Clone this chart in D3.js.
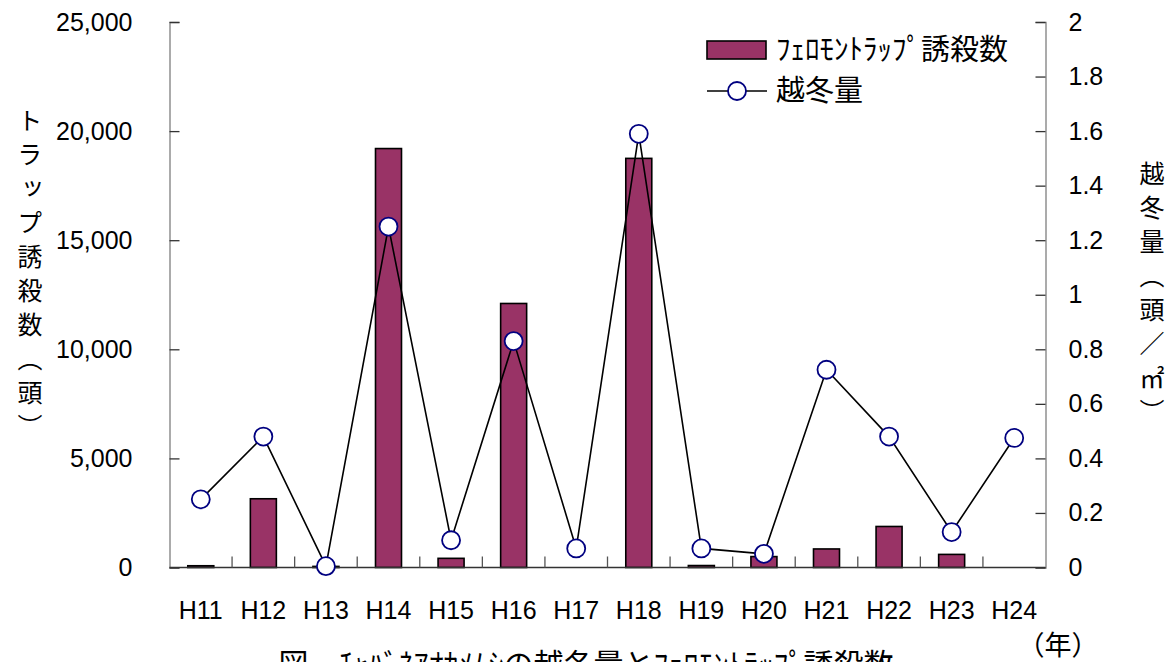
<!DOCTYPE html>
<html>
<head>
<meta charset="utf-8">
<script src="https://cdn.jsdelivr.net/npm/d3@7"></script>
<style>
  html, body { margin: 0; padding: 0; background: #fff; overflow: hidden; }
  svg { display: block; }
  text { font-family: "Liberation Sans", Arial, sans-serif; fill: #000; }
  .jp { font-family: "Noto Sans CJK JP", sans-serif; }
</style>
</head>
<body>
<svg id="chart" width="1176" height="662"></svg>
<script>
// ---- data ----
const categories = ["H11","H12","H13","H14","H15","H16","H17","H18","H19","H20","H21","H22","H23","H24"];
const trapCounts = [80, 3150, 50, 19200, 420, 12100, 0, 18750, 90, 500, 850, 1880, 600, 0];
const overwinter = [0.25, 0.48, 0.005, 1.25, 0.10, 0.83, 0.07, 1.59, 0.07, 0.05, 0.725, 0.48, 0.13, 0.475];
const leftTicks = [0, 5000, 10000, 15000, 20000, 25000];
const rightTicks = [0, 0.2, 0.4, 0.6, 0.8, 1, 1.2, 1.4, 1.6, 1.8, 2];
const legendBarLabel = "ﾌｪﾛﾓﾝﾄﾗｯﾌﾟ誘殺数";
const legendLineLabel = "越冬量";
const leftTitle = "トラップ誘殺数（頭）";
const rightTitle = "越冬量（頭／㎡）";
const xUnit = "（年）";
const caption = "図　ﾁｬﾊﾞﾈｱｵｶﾒﾑｼの越冬量とﾌｪﾛﾓﾝﾄﾗｯﾌﾟ誘殺数";

// ---- layout ----
const plot = { left: 169.5, right: 1045.5, top: 22, bottom: 567.5 };
const svg = d3.select("#chart");

const x = d3.scaleBand().domain(categories).range([plot.left, plot.right]).padding(0);
const yL = d3.scaleLinear().domain([0, 25000]).range([plot.bottom, plot.top]);
const yR = d3.scaleLinear().domain([0, 2]).range([plot.bottom, plot.top]);

const barW = 26;
const barColor = "#993366";
const axisColor = "#7f7f7f";

// bars
svg.append("g").selectAll("rect").data(categories.map((c, i) => ({c, v: trapCounts[i]})).filter(d => d.v > 0))
  .join("rect")
  .attr("x", d => x(d.c) + x.bandwidth()/2 - barW/2)
  .attr("y", d => yL(d.v))
  .attr("width", barW)
  .attr("height", d => Math.max(0, yL(0) - yL(d.v)))
  .attr("fill", barColor)
  .attr("stroke", "#000")
  .attr("stroke-width", 1.6);

// axes
const leftAxis = d3.axisLeft(yL).tickValues(leftTicks).tickSize(-10).tickFormat(d3.format(","));
const gL = svg.append("g").attr("transform", `translate(${plot.left},0)`).call(leftAxis);
gL.select(".domain").attr("stroke", axisColor).attr("stroke-width", 1.3);
gL.selectAll(".tick line").attr("stroke", "#333").attr("stroke-width", 1.3);
gL.selectAll(".tick text").attr("x", -37).attr("font-size", 25).attr("font-family", "Liberation Sans, Arial, sans-serif").attr("fill", "#000");

const rightAxis = d3.axisRight(yR).tickValues(rightTicks).tickSize(-10).tickFormat(d => d3.format("~g")(d));
const gR = svg.append("g").attr("transform", `translate(${plot.right},0)`).call(rightAxis);
gR.select(".domain").attr("stroke", axisColor).attr("stroke-width", 1.3);
gR.selectAll(".tick line").attr("stroke", "#333").attr("stroke-width", 1.3);
gR.selectAll(".tick text").attr("x", 23).attr("font-size", 25).attr("font-family", "Liberation Sans, Arial, sans-serif").attr("fill", "#000");

// x axis
const gX = svg.append("g").attr("transform", `translate(0,${plot.bottom})`);
gX.append("line").attr("x1", plot.left).attr("x2", plot.right).attr("stroke", "#333").attr("stroke-width", 1.3);
gX.selectAll("line.tk").data(categories.slice(1)).join("line").attr("class", "tk")
  .attr("x1", d => x(d)).attr("x2", d => x(d)).attr("y1", 0).attr("y2", -11)
  .attr("stroke", "#555").attr("stroke-width", 1.3);
gX.selectAll("text").data(categories).join("text")
  .attr("x", d => x(d) + x.bandwidth()/2).attr("y", 51)
  .attr("text-anchor", "middle").attr("font-size", 25).text(d => d);

// line series
const pts = categories.map((c, i) => ({c, v: overwinter[i]}));
const line = d3.line().x(d => x(d.c) + x.bandwidth()/2).y(d => yR(d.v));
svg.append("path").datum(pts).attr("d", line).attr("fill", "none").attr("stroke", "#000").attr("stroke-width", 1.6);
svg.append("g").selectAll("circle").data(pts).join("circle")
  .attr("cx", d => x(d.c) + x.bandwidth()/2).attr("cy", d => yR(d.v)).attr("r", 9)
  .attr("fill", "#fff").attr("stroke", "#000080").attr("stroke-width", 1.8);

// legend
const lg = svg.append("g");
lg.append("rect").attr("x", 707).attr("y", 41).attr("width", 59).attr("height", 18)
  .attr("fill", barColor).attr("stroke", "#000").attr("stroke-width", 1.6);
lg.append("text").attr("class", "jp").attr("x", 776).attr("y", 60).attr("font-size", 29).text(legendBarLabel);
lg.append("line").attr("x1", 707).attr("x2", 767).attr("y1", 91).attr("y2", 91).attr("stroke", "#000").attr("stroke-width", 1.6);
lg.append("circle").attr("cx", 737).attr("cy", 91).attr("r", 9).attr("fill", "#fff").attr("stroke", "#000080").attr("stroke-width", 1.8);
lg.append("text").attr("class", "jp").attr("x", 776).attr("y", 101).attr("font-size", 29).text(legendLineLabel);

// axis titles (vertical)
svg.append("text").attr("class", "jp")
  .attr("x", 30).attr("y", 108)
  .style("writing-mode", "vertical-rl")
  .style("letter-spacing", "9px")
  .attr("font-size", 25).text(leftTitle);
svg.append("text").attr("class", "jp")
  .attr("x", 1152).attr("y", 161)
  .style("writing-mode", "vertical-rl")
  .style("letter-spacing", "9px")
  .attr("font-size", 25).text(rightTitle);

// x unit
svg.append("text").attr("class", "jp").attr("x", 1058).attr("y", 655)
  .attr("text-anchor", "middle").attr("font-size", 27).text(xUnit);

// caption
svg.append("text").attr("class", "jp").attr("x", 586).attr("y", 675)
  .attr("text-anchor", "middle").attr("font-size", 30).text(caption);
</script>
</body>
</html>
